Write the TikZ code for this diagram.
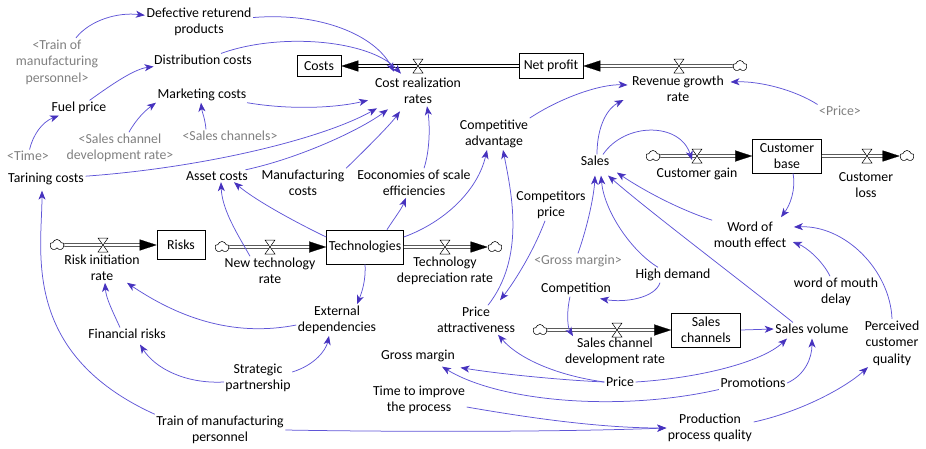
\documentclass[tikz,border=0pt]{standalone}
\usepackage{fontspec}
\setmainfont{Carlito}
\usetikzlibrary{arrows.meta,shapes.symbols}
\definecolor{linkc}{RGB}{95,85,215}
\definecolor{headc}{RGB}{70,50,190}
\definecolor{ghost}{RGB}{128,128,128}
\tikzset{
 var/.style={font=\fontsize{13.8}{16.5}\selectfont, align=center, inner sep=1.5pt},
 shadow/.style={var, text=ghost},
 stock/.style={var, draw, line width=0.6pt, inner sep=2pt},
 link/.style={draw=linkc, line width=0.75pt, -{Stealth[length=9pt,width=7pt,inset=2.5pt,color=headc]}},
 pipe/.style={draw=black, line width=0.55pt, double=white, double distance=2.6pt, shorten >=8pt},
 pipetip/.style={draw=white, line width=0.2pt, -{Triangle[length=17pt,width=11pt,color=black]}},
 cloudy/.style={cloud, cloud puffs=5, cloud puff arc=150, aspect=1.25, draw, fill=white, line width=0.55pt, minimum width=14pt, minimum height=11pt, inner sep=0pt},
 valve/.pic={\draw[fill=white, line width=0.5pt] (-5,-7) -- (5,-7) -- (-5,7) -- (5,7) -- cycle;}
}
\begin{document}
\begin{tikzpicture}[x=1pt,y=-1pt]
\useasboundingbox (0,0) rectangle (926,448);
% variables
\node[var] (defect) at (199,22) {Defective returend\\products};
\node[shadow] (trainG) at (57,62) {<Train of\\manufacturing\\personnel>};
\node[var] (dist) at (203,60) {Distribution costs};
\node[var] (fuel) at (79,108) {Fuel price};
\node[var] (mkt) at (202,95) {Marketing costs};
\node[shadow] (scdrG) at (120,148) {<Sales channel\\development rate>};
\node[shadow] (scG) at (230,136) {<Sales channels>};
\node[shadow] (timeG) at (28,156) {<Time>};
\node[var] (train) at (46,179) {Tarining costs};
\node[stock, minimum width=44pt, minimum height=21pt] (costs) at (319,66) {Costs};
\node[var] (crr) at (418,91) {Cost realization\\rates};
\node[stock, minimum width=64pt, minimum height=25pt] (netp) at (551,66) {Net profit};
\node[var] (rgr) at (678,89) {Revenue growth\\rate};
\node[shadow] (priceG) at (840,111) {<Price>};
\node[var] (cadv) at (494,134) {Competitive\\advantage};
\node[var] (sales) at (595,161) {Sales};
\node[var] (cgain) at (697,174) {Customer gain};
\node[stock, minimum width=69pt, minimum height=34pt] (cbase) at (787,156) {Customer\\base};
\node[var] (closs) at (866,185) {Customer\\loss};
\node[var] (asset) at (217,176) {Asset costs};
\node[var] (manuf) at (303,183) {Manufacturing\\costs};
\node[var] (econ) at (414,183) {Eoconomies of scale\\efficiencies};
\node[var] (compp) at (551,205) {Competitors\\price};
\node[var] (wom) at (750,235) {Word of\\mouth effect};
\node[stock, minimum width=48pt, minimum height=29pt] (risks) at (181,245) {Risks};
\node[var] (rir) at (102,268) {Risk initiation\\rate};
\node[stock, minimum width=77pt, minimum height=34pt] (tech) at (365,247) {Technologies};
\node[var] (newt) at (270,271) {New technology\\rate};
\node[var] (tdep) at (445,271) {Technology\\depreciation rate};
\node[shadow] (gmG) at (578,261) {<Gross margin>};
\node[var] (hdem) at (673,275) {High demand};
\node[var] (compn) at (576,289) {Competition};
\node[var] (womd) at (836,292) {word of mouth\\delay};
\node[var] (extd) at (337,320) {External\\dependencies};
\node[var] (finr) at (127,334) {Financial risks};
\node[var] (patt) at (476,320) {Price\\attractiveness};
\node[stock, minimum width=69pt, minimum height=34pt] (schan) at (706,330) {Sales\\channels};
\node[var] (scdr) at (615,352) {Sales channel\\development rate};
\node[var] (svol) at (812,329) {Sales volume};
\node[var] (pcq) at (892,343) {Perceived\\customer\\quality};
\node[var] (gm) at (418,356) {Gross margin};
\node[var] (strat) at (258,378) {Strategic\\partnership};
\node[var] (price) at (620,382) {Price};
\node[var] (promo) at (753,383) {Promotions};
\node[var] (timp) at (419,400) {Time to improve\\the process};
\node[var] (tmp) at (220,430) {Train of manufacturing\\personnel};
\node[var] (ppq) at (710,428) {Production\\process quality};
% clouds
\node[cloudy] (cl1) at (740,66) {};
\node[cloudy] (cl2) at (653,156) {};
\node[cloudy] (cl3) at (907,156) {};
\node[cloudy] (cl4) at (57,245) {};
\node[cloudy] (cl5) at (222,247) {};
\node[cloudy] (cl6) at (495,247) {};
\node[cloudy] (cl7) at (540,330) {};
% valves
\coordinate (vcrr) at (418,66);
\coordinate (vrgr) at (679,66);
\coordinate (vcg) at (697,156);
\coordinate (vcl) at (867,156);
\coordinate (vrir) at (103,245);
\coordinate (vnt) at (270,247);
\coordinate (vtd) at (445,247);
\coordinate (vscdr) at (617,330);
% flows
\draw[pipe] (netp) -- (costs);   \draw[pipetip] (netp) -- (costs);
\draw[pipe] (cl1) -- (netp);     \draw[pipetip] (cl1) -- (netp);
\draw[pipe] (cl2) -- (cbase);    \draw[pipetip] (cl2) -- (cbase);
\draw[pipe] (cbase) -- (cl3);    \draw[pipetip] (cbase) -- (cl3);
\draw[pipe] (cl4) -- (risks);    \draw[pipetip] (cl4) -- (risks);
\draw[pipe] (cl5) -- (tech);     \draw[pipetip] (cl5) -- (tech);
\draw[pipe] (tech) -- (cl6);     \draw[pipetip] (tech) -- (cl6);
\draw[pipe] (cl7) -- (schan);    \draw[pipetip] (cl7) -- (schan);
\foreach \v in {vcrr,vrgr,vcg,vcl,vrir,vnt,vtd,vscdr} \pic at (\v) {valve};
% links
\draw[link] (trainG) .. controls (90,20) and (118,12) .. (defect);
\draw[link] (defect) .. controls (320,12) and (375,35) .. ([xshift=-24pt,yshift=4.5pt]crr.north);
\draw[link] (dist) .. controls (280,32) and (370,40) .. ([xshift=-17pt,yshift=2.5pt]crr.north);
\draw[link] (fuel) .. controls (115,82) and (135,69) .. (dist);
\draw[link] (timeG) .. controls (33,135) and (42,122) .. (fuel);
\draw[link] (mkt) .. controls (290,110) and (335,108) .. ([xshift=-50pt,yshift=5.5pt]crr.south);
\draw[link] (scdrG) .. controls (137,118) and (146,110) .. (mkt.south west);
\draw[link] ([xshift=-24pt]scG.north) .. controls (205,118) and (202,112) .. ([xshift=-1pt]mkt.south);
\draw[link] (train) .. controls (200,168) and (320,140) .. ([xshift=-41pt,yshift=-2.5pt]crr.south);
\draw[link] (asset) .. controls (300,158) and (360,130) .. ([xshift=-30pt,yshift=-3.5pt]crr.south);
\draw[link] (manuf.north east) .. controls (365,150) and (390,125) .. ([xshift=-18pt,yshift=-5.5pt]crr.south);
\draw[link] ([xshift=10pt]econ.north) .. controls (430,150) and (430,125) .. ([xshift=9pt,yshift=-0.5pt]crr.south);
\draw[link] ([yshift=10pt]tech.west) .. controls (295,222) and (255,200) .. ([xshift=17pt]asset.south);
\draw[link] ([xshift=-20pt]newt.north) .. controls (238,235) and (222,210) .. ([xshift=4pt]asset.south);
\draw[link] ([xshift=22pt]tech.north) .. controls (393,220) and (401,210) .. ([xshift=-8pt]econ.south);
\draw[link] ([yshift=10pt]tech.east) .. controls (445,222) and (478,190) .. ([xshift=-7pt]cadv.south);
\draw[link] (tech.south) .. controls (366,280) and (362,292) .. ([xshift=20pt]extd.north);
\draw[link] ([yshift=-5pt]extd.west) .. controls (230,338) and (175,315) .. ([xshift=25pt]rir.south);
\draw[link] ([xshift=-7pt]finr.north) .. controls (112,310) and (106,298) .. ([xshift=3pt]rir.south);
\draw[link] ([yshift=-4pt]strat.west) .. controls (185,384) and (155,368) .. ([xshift=13pt,yshift=-4pt]finr.south);
\draw[link] ([yshift=6pt]strat.east) .. controls (315,365) and (326,350) .. ([xshift=-8pt]extd.south);
\draw[link] (tmp.north west) .. controls (20,353) and (42,250) .. ([xshift=-4pt,yshift=-4pt]train.south);
\draw[link] (tmp.east) .. controls (400,432) and (560,432) .. (ppq.west);
\draw[link] ([yshift=-7pt]timp.east) .. controls (530,418) and (600,428) .. (ppq.west);
\draw[link] ([yshift=6pt]ppq.east) .. controls (800,412) and (845,388) .. ([xshift=-24pt]pcq.south);
\draw[link] (pcq.north) .. controls (890,270) and (845,225) .. ([xshift=6pt,yshift=8pt]wom.east);
\draw[link] ([xshift=-6pt]womd.north) .. controls (822,260) and (806,247) .. ([xshift=5pt,yshift=-7pt]wom.east);
\draw[link] ([xshift=6pt]cbase.south) .. controls (796,190) and (790,205) .. ([xshift=31pt,yshift=3pt]wom.north);
\draw[link] (wom.north west) .. controls (675,208) and (640,188) .. ([xshift=6pt,yshift=-5pt]sales.south east);
\draw[link] ([xshift=-19pt]svol.north) .. controls (740,280) and (650,212) .. ([xshift=13pt,yshift=-8pt]sales.south);
\draw[link] ([xshift=-15pt]hdem.north) .. controls (630,250) and (604,210) .. ([xshift=6pt,yshift=-8pt]sales.south);
\draw[link] (gmG.north) .. controls (588,225) and (594,195) .. ([yshift=-8pt]sales.south);
\draw[link] ([xshift=-13pt]hdem.south) .. controls (655,298) and (625,303) .. ([xshift=24pt,yshift=-2pt]compn.south);
\draw[link] ([xshift=-6pt]compn.south) .. controls (566,315) and (568,328) .. ([xshift=-42pt]scdr.north);
\draw[link] ([xshift=2pt]sales.north) .. controls (597,125) and (608,108) .. ([xshift=-7pt,yshift=-11pt]rgr.west);
\draw[link] (cadv.north east) .. controls (560,98) and (600,84) .. ([xshift=-3pt,yshift=4pt]rgr.west);
\draw[link] (priceG.north west) .. controls (795,90) and (760,81) .. ([xshift=5pt,yshift=7pt]rgr.east);
\draw[link] ([xshift=8pt]sales.north) .. controls (625,122) and (680,122) .. ([xshift=-5pt,yshift=-4pt]vcg);
\draw[link] ([xshift=-6pt]compp.south) .. controls (532,255) and (512,285) .. ([xshift=24pt,yshift=5pt]patt.north);
\draw[link] ([xshift=12pt]patt.north) .. controls (525,258) and (512,195) .. ([xshift=9pt]cadv.south);
\draw[link] (price.west) .. controls (560,376) and (520,360) .. ([xshift=22pt]patt.south);
\draw[link] (price.west) .. controls (560,380) and (500,374) .. ([xshift=4pt,yshift=-4pt]gm.south east);
\draw[link] (promo.south west) .. controls (620,412) and (500,402) .. ([xshift=24pt,yshift=-3pt]gm.south);
\draw[link] (price.east) .. controls (700,378) and (762,362) .. ([xshift=-25pt,yshift=-3pt]svol.south);
\draw[link] (promo.east) .. controls (805,375) and (812,358) .. ([yshift=-3pt]svol.south);
\draw[link] (schan.east) -- (svol.west);
\end{tikzpicture}
\end{document}
